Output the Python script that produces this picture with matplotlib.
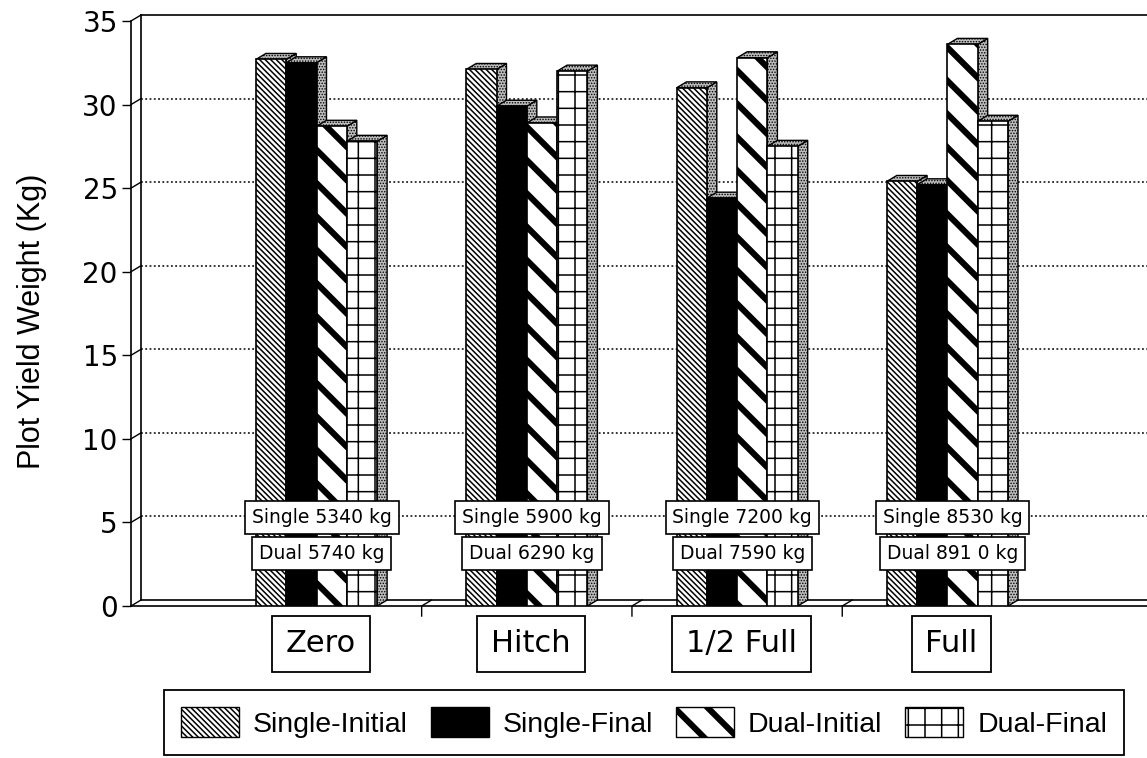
import matplotlib
matplotlib.use("Agg")
import matplotlib.pyplot as plt
import matplotlib.transforms as mtransforms
from matplotlib.patches import Polygon, Patch

# datos
categorias = ["Zero", "Hitch", "1/2 Full", "Full"]
series = ["Single-Initial", "Single-Final", "Dual-Initial", "Dual-Final"]
single_initial = [32.7, 32.1, 31.0, 25.4]
single_final = [32.5, 29.9, 24.4, 25.2]
dual_initial = [28.7, 28.9, 32.8, 33.6]
dual_final = [27.8, 32.0, 27.5, 29.0]
rend_single = ["Single 5340 kg", "Single 5900 kg", "Single 7200 kg", "Single 8530 kg"]
rend_dual = ["Dual 5740 kg", "Dual 6290 kg", "Dual 7590 kg", "Dual 891 0 kg"]
yticks = [0, 5, 10, 15, 20, 25, 30, 35]

valores = [single_initial, single_final, dual_initial, dual_final]
estilos = [
    dict(facecolor="white", hatch="\\\\\\\\\\\\", hlw=1.1),
    dict(facecolor="black", hatch=None, hlw=1.0),
    dict(facecolor="white", hatch="\\", hlw=4.4),
    dict(facecolor="white", hatch="+", hlw=1.1),
]

fig = plt.figure(figsize=(11.47, 7.58), dpi=100)
ax = fig.add_axes([131 / 1147, 152 / 758, 1016 / 1147, 585 / 758])
ax.set_xlim(-0.8821, 3.9491)
ax.set_ylim(0, 35)

# profundidad 3D (px -> datos)
dx = 10 / 210.3
dy = 6 / 16.74
fondo = ax.transData + mtransforms.ScaledTranslation(10 / 100, 6 / 100, fig.dpi_scale_trans)
xl, xr = ax.get_xlim()

# pared del fondo y grilla
for y in yticks[1:-1]:
    ax.plot([xl, xr], [y, y], transform=fondo, color="black", lw=1.1,
            ls=(0, (1.2, 1.6)), zorder=1, clip_on=False)
ax.plot([xl, xr], [35, 35], transform=fondo, color="black", lw=1.2, zorder=1, clip_on=False)
ax.plot([xl, xr], [0, 0], transform=fondo, color="black", lw=1.2, zorder=1, clip_on=False)
ax.plot([xl, xl], [0, 35], transform=fondo, color="black", lw=1.2, zorder=1, clip_on=False)
for y in yticks:
    ax.plot([xl, xl + dx], [y, y + dy], color="black", lw=1.0, zorder=1, clip_on=False)
for xb in [0.5, 1.5, 2.5]:
    ax.plot([xb + dx, xb, xb], [dy, 0, -0.6], color="black", lw=1.0, zorder=1, clip_on=False)

# barras con efecto 3D
w = 30.3 / 210.3
grupos = list(range(len(categorias)))
for si, (vals, est) in enumerate(zip(valores, estilos)):
    xs = [g + (si - 1.5) * w for g in grupos]
    for x, v in zip(xs, vals):
        x0, x1 = x - w / 2, x + w / 2
        lado = Polygon([(x1, 0), (x1 + dx, dy), (x1 + dx, v + dy), (x1, v)],
                       closed=True, facecolor="#bdbdbd", edgecolor="black",
                       hatch="......", lw=1.0, zorder=3 + 2 * si)
        tapa = Polygon([(x0, v), (x0 + dx, v + dy), (x1 + dx, v + dy), (x1, v)],
                       closed=True, facecolor="#bdbdbd", edgecolor="black",
                       hatch="......", lw=1.0, zorder=3 + 2 * si)
        for p in (lado, tapa):
            p.set_hatch_linewidth(0.7)
            ax.add_patch(p)
    barras = ax.bar(xs, vals, width=w, facecolor=est["facecolor"], edgecolor="black",
                    hatch=est["hatch"], lw=1.2, zorder=4 + 2 * si)
    for b in barras:
        b.set_hatch_linewidth(est["hlw"])

# cajas de rendimiento
for g in grupos:
    ax.text(g + 0.025, 5.3, rend_single[g], ha="center", va="center", fontsize=13.5,
            family="DejaVu Sans", zorder=30,
            bbox=dict(boxstyle="square,pad=0.37", facecolor="white", edgecolor="black", lw=1.2))
    ax.text(g + 0.025, 3.15, rend_dual[g], ha="center", va="center", fontsize=13.5,
            family="DejaVu Sans", zorder=29,
            bbox=dict(boxstyle="square,pad=0.37", facecolor="white", edgecolor="black", lw=1.2))

# etiquetas de categoria
for g in grupos:
    ax.text(g + 0.02, -2.27, categorias[g], ha="center", va="center", fontsize=22,
            family="DejaVu Sans", clip_on=False,
            bbox=dict(boxstyle="square,pad=0.45", facecolor="white", edgecolor="black", lw=1.3))

# ejes
for s in ["top", "right"]:
    ax.spines[s].set_visible(False)
ax.spines["left"].set_linewidth(1.2)
ax.spines["bottom"].set_linewidth(1.2)
ax.set_xticks([])
ax.set_yticks(yticks)
ax.tick_params(axis="y", length=6.5, width=1.0, pad=3, labelsize=20)
for t in ax.get_yticklabels():
    t.set_family("DejaVu Sans")
ax.set_ylabel("Plot Yield Weight (Kg)", fontsize=22, va="center", family="Liberation Sans")
ax.yaxis.set_label_coords(-0.0975, 0.487)

# leyenda
handles = [Patch(facecolor=e["facecolor"], edgecolor="black", hatch=e["hatch"], lw=1.0)
           for e in estilos]
leg = fig.legend(handles, series, loc="upper left", bbox_to_anchor=(164 / 1147, 68 / 758),
                 ncol=4, frameon=True, fancybox=False, edgecolor="black", framealpha=1,
                 borderaxespad=0, borderpad=0.6, handlelength=2.04, handleheight=1.25,
                 handletextpad=0.49, columnspacing=0.8,
                 prop=dict(family="Liberation Sans", size=20.5))
leg.get_frame().set_linewidth(1.3)
for h, e in zip(leg.legend_handles, estilos):
    h.set_hatch_linewidth(e["hlw"])

fig.savefig("out.png", dpi=100)
